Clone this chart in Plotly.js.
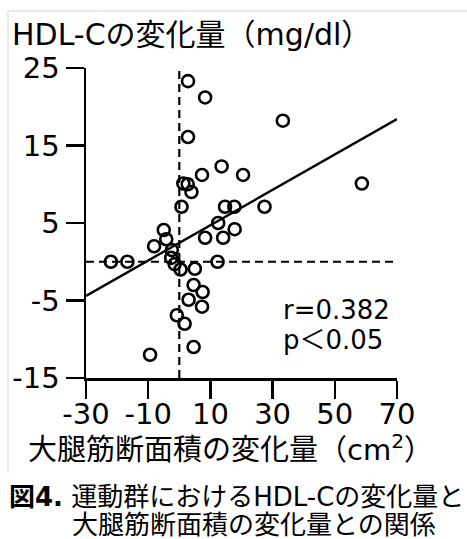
<!DOCTYPE html>
<html>
<head>
<meta charset="utf-8">
<script src="https://cdn.plot.ly/plotly-3.0.1.min.js"></script>
<style>
html,body{margin:0;padding:0;background:#fff;}
#chart{width:467px;height:539px;}
</style>
</head>
<body>
<div id="chart"></div>
<script>
// Data
const muscleChange = [2.8, 8.3, 33.3, 2.8, 13.6, 7.3, 20.5, 1.3, 2.7, 3.9, 0.7, 14.7, 17.7, 27.4, 58.7, 12.5, 17.8, 8.3, 14.1, 12.3, -5.0, -4.2, -8.1, -2.4, -2.6, -1.5, 0.4, 5.0, 4.6, 7.5, 3.0, 7.3, -0.8, 1.7, 4.6, -9.4, -22.0, -16.7];
const hdlChange    = [23.3, 21.2, 18.2, 16.1, 12.3, 11.2, 11.2, 10.1, 10.0, 9.0, 7.1, 7.1, 7.1, 7.1, 10.1, 5.0, 4.2, 3.1, 3.1, 0.0, 4.1, 2.9, 2.0, 1.5, 0.5, -0.3, -1.0, -0.9, -3.0, -3.9, -4.9, -5.8, -6.9, -8.0, -11.0, -12.0, 0.0, 0.0];
const fitX = [-30, 70];
const fitY = [-4.4, 18.4];
const xTicks = [-30, -10, 10, 30, 50, 70];
const yTicks = [-15, -5, 5, 15, 25];
const statR = "r=0.382";
const statP = "p＜0.05";
const yTitle = "HDL-Cの変化量（mg/dl）";
const xTitle = "大腿筋断面積の変化量（cm<sup>2</sup>）";
const caption1 = "<b>図4.</b> 運動群におけるHDL-Cの変化量と";
const caption2 = "大腿筋断面積の変化量との関係";

const FONT = "DejaVu Sans, Noto Sans CJK JP, sans-serif";
const L = 86, R = 397, T = 68, B = 378;
const px = v => (v - L) / (R - L);
const py = v => (B - v) / (B - T);

const traces = [
  {x: fitX, y: fitY, mode: 'lines', line: {color: '#000', width: 2.4}, hoverinfo: 'skip'},
  {x: muscleChange, y: hdlChange, mode: 'markers',
   marker: {symbol: 'circle-open', size: 12, color: '#000', line: {color: '#000', width: 2.6}}}
];

const axisCommon = {
  showgrid: false, zeroline: false, showline: true, linecolor: '#000', linewidth: 2.5,
  ticks: 'outside', ticklen: 18, tickwidth: 2.5, tickcolor: '#000',
  tickfont: {size: 29, family: FONT, color: '#000'}, fixedrange: true
};

const layout = {
  width: 467, height: 539,
  margin: {l: L, r: 467 - R, t: T, b: 539 - B, pad: 0},
  paper_bgcolor: '#fff', plot_bgcolor: '#fff',
  showlegend: false,
  font: {family: FONT, color: '#000'},
  xaxis: Object.assign({range: [-30, 70], tickvals: xTicks, ticktext: xTicks.map(String), ticklabelstandoff: -9}, axisCommon),
  yaxis: Object.assign({range: [-15, 25], tickvals: yTicks, ticktext: yTicks.map(String), ticklabelstandoff: 0}, axisCommon),
  shapes: [
    {type: 'line', xref: 'x', yref: 'y', x0: 0, x1: 0, y0: -15, y1: 25, layer: 'below',
     line: {color: '#000', width: 2.2, dash: '8px,5px'}},
    {type: 'line', xref: 'x', yref: 'y', x0: -30, x1: 70, y0: 0, y1: 0, layer: 'below',
     line: {color: '#000', width: 2.2, dash: '8px,5px'}},
    {type: 'line', xref: 'paper', yref: 'paper', x0: px(8), x1: px(467), y0: py(11), y1: py(11),
     line: {color: '#d4d4d4', width: 1}},
    {type: 'line', xref: 'paper', yref: 'paper', x0: px(8), x1: px(8), y0: py(11), y1: py(473),
     line: {color: '#d4d4d4', width: 1}}
  ],
  annotations: [
    {text: yTitle, xref: 'paper', yref: 'paper', x: px(10), y: py(34), xanchor: 'left', yanchor: 'middle',
     showarrow: false, font: {size: 30, family: FONT}},
    {text: xTitle, xref: 'paper', yref: 'paper', x: px(230), y: py(448), xanchor: 'center', yanchor: 'middle',
     showarrow: false, font: {size: 29, family: FONT}},
    {text: statR, xref: 'paper', yref: 'paper', x: px(281), y: py(310), xanchor: 'left', yanchor: 'middle',
     showarrow: false, font: {size: 26, family: FONT}},
    {text: statP, xref: 'paper', yref: 'paper', x: px(281), y: py(340), xanchor: 'left', yanchor: 'middle',
     showarrow: false, font: {size: 26, family: FONT}},
    {text: caption1, xref: 'paper', yref: 'paper', x: px(7), y: py(497), xanchor: 'left', yanchor: 'middle',
     showarrow: false, font: {size: 26, family: FONT}},
    {text: caption2, xref: 'paper', yref: 'paper', x: px(70), y: py(525), xanchor: 'left', yanchor: 'middle',
     showarrow: false, font: {size: 26, family: FONT}}
  ]
};

Plotly.newPlot('chart', traces, layout, {displayModeBar: false, staticPlot: true});
</script>
</body>
</html>
